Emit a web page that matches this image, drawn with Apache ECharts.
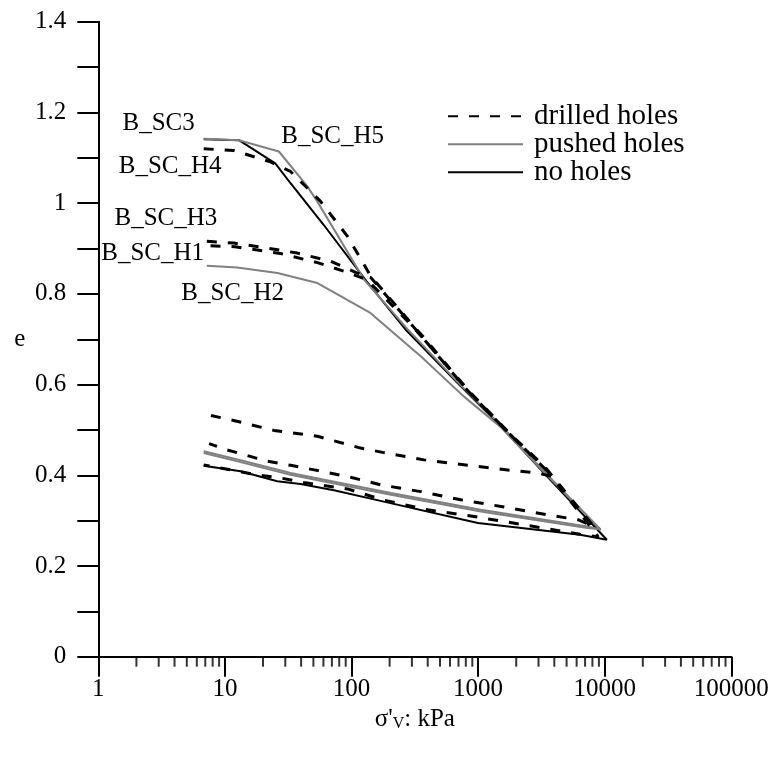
<!DOCTYPE html>
<html><head><meta charset="utf-8">
<script src="https://cdn.jsdelivr.net/npm/echarts@6/dist/echarts.min.js"></script>
<style>html,body{margin:0;padding:0;background:#fff}#c{width:774px;height:760px}</style>
</head><body><div id="c"></div>
<script>
// ---- data (sigma'v in kPa, void ratio e) ----
const xTickLabels = ['1', '10', '100', '1000', '10000', '100000'];
const yTickLabels = ['0', '0.2', '0.4', '0.6', '0.8', '1', '1.2', '1.4'];
const xMinorTicks = [2,3,4,5,6,7,8,9, 20,30,40,50,60,70,80,90, 200,300,400,500,600,700,800,900,
  2000,3000,4000,5000,6000,7000,8000,9000, 20000,30000,40000,50000,60000,70000,80000,90000];

// no holes
const sc3 = [[6.8,1.141],[12.9,1.139],[25,1.088],[33,1.044],[60,0.953],[133,0.826],[268,0.721],[686,0.604],[1513,0.508],[3500,0.398],[10400,0.258],
  [6400,0.269],[996,0.295],[180,0.342],[72.7,0.367],[39.6,0.381],[25.9,0.387],[13.3,0.409],[6.8,0.421]];
// pushed holes
const scH5 = [[6.8,1.142],[12.9,1.139],[26.7,1.114],[44.8,1.037],[53.6,1.004],[126,0.831],[276,0.723],[686,0.606],[1513,0.51],[3500,0.402],[9300,0.28],
  [7300,0.287],[1050,0.324],[205,0.361],[82,0.383],[33,0.405],[13.3,0.433],[6.8,0.453]];
const scH2 = [[7.2,0.862],[12.5,0.858],[26,0.846],[53.8,0.824],[141,0.758],[354,0.662],[770,0.574],[1513,0.506],[3500,0.4],[9200,0.281],
  [7300,0.284],[1050,0.32],[205,0.357],[82,0.379],[33,0.401],[13.3,0.429],[6.8,0.449]];
// drilled holes
const scH4 = [[6.8,1.12],[11.8,1.116],[22.9,1.091],[33,1.07],[57,1.004],[93,0.927],[142,0.839],[303,0.732],[375,0.703],[826,0.589],[1808,0.49],[3330,0.42],[8200,0.287],
  [6140,0.302],[3530,0.313],[1615,0.33],[730,0.346],[352,0.364],[170,0.379],[104,0.394],[50.7,0.412],[33,0.422],[21.7,0.431],[10.4,0.456],[7.5,0.47]];
const scH3 = [[7.2,0.916],[11.8,0.912],[21.6,0.901],[37.3,0.89],[68.4,0.872],[111,0.846],[142,0.836],[303,0.73],[826,0.587],[1808,0.489],[3900,0.397],
  [2950,0.405],[1808,0.411],[826,0.422],[375,0.434],[180,0.45],[118,0.46],[53.8,0.486],[24.4,0.499],[11.7,0.521],[7.2,0.534]];
const scH1 = [[7.7,0.906],[12,0.904],[27.5,0.889],[53.8,0.869],[87,0.85],[133,0.831],[303,0.729],[826,0.588],[1808,0.488],[3330,0.418],[8900,0.264],
  [6400,0.27],[2770,0.287],[930,0.309],[400,0.324],[180,0.345],[93,0.37],[42,0.384],[27.5,0.394],[18,0.401],[6.8,0.423]];

// curve annotations
const labelNames = ['B_SC3', 'B_SC_H5', 'B_SC_H4', 'B_SC_H3', 'B_SC_H1', 'B_SC_H2'];
const labelX = [1.567, 28.1, 1.465, 1.355, 1.064, 4.56];
const labelE = [1.174, 1.147, 1.080, 0.965, 0.889, 0.801];

const legendNames = ['drilled holes', 'pushed holes', 'no holes'];

// ---- chart ----
const FONT = 'Liberation Serif';
const chart = echarts.init(document.getElementById('c'), null, { renderer: 'canvas' });

function curve(name, data, kind) {
  const styles = {
    drilled: { color: '#000000', width: 3, type: [10, 11] },
    pushed: { color: '#808080', width: 2, type: 'solid' },
    none: { color: '#000000', width: 2, type: 'solid' }
  };
  const z = { none: 2, pushed: 3, drilled: 4 }[kind];
  return {
    type: 'line', name: name, data: data, symbol: 'none', showSymbol: false,
    lineStyle: styles[kind], itemStyle: { color: styles[kind].color },
    z: z, silent: true, animation: false, clip: false
  };
}

const option = {
  animation: false,
  backgroundColor: '#ffffff',
  textStyle: { fontFamily: FONT, color: '#000' },
  grid: { left: 98.3, right: 42.7, top: 21.8, bottom: 103.3, containLabel: false, outerBoundsMode: 'none' },
  legend: {
    data: legendNames,
    orient: 'vertical', left: 447, top: 98.3, padding: 0,
    itemWidth: 75, itemHeight: 14, itemGap: -8,
    itemStyle: { opacity: 0, color: 'rgba(0,0,0,0)', borderWidth: 0 },
    textStyle: { fontFamily: FONT, fontSize: 29, color: '#000', lineHeight: 28, padding: [0, 0, 8, 6] },
    selectedMode: false
  },
  xAxis: {
    type: 'log', logBase: 10, min: 1, max: 100000,
    name: "σ'{sub|V}: kPa", nameLocation: 'middle', nameGap: 48,
    nameTextStyle: { fontFamily: FONT, fontSize: 25, color: '#000',
      rich: { sub: { fontFamily: FONT, fontSize: 16, color: '#000', verticalAlign: 'bottom', padding: [10, 0, 0, 0] } } },
    axisLine: { show: true, onZero: false, lineStyle: { color: '#000', width: 2 } },
    axisTick: { show: true, inside: false, length: 20, lineStyle: { color: '#000', width: 2 } },
    minorTick: { show: false },
    splitLine: { show: false },
    axisLabel: { fontFamily: FONT, fontSize: 25, color: '#000', margin: 20,
      formatter: function (v) { const i = Math.round(Math.log10(v)); return xTickLabels[i] !== undefined ? xTickLabels[i] : ''; } }
  },
  yAxis: {
    type: 'value', min: 0, max: 1.4, interval: 0.2,
    name: 'e', nameLocation: 'middle', nameRotate: 0, nameGap: 73,
    nameTextStyle: { fontFamily: FONT, fontSize: 25, color: '#000' },
    axisLine: { show: true, onZero: false, lineStyle: { color: '#000', width: 2 } },
    axisTick: { show: true, inside: false, length: 21, lineStyle: { color: '#000', width: 2 } },
    minorTick: { show: true, splitNumber: 2, length: 21, lineStyle: { color: '#000', width: 2 } },
    splitLine: { show: false },
    axisLabel: { fontFamily: FONT, fontSize: 25, color: '#000', margin: 32,
      formatter: function (v) { const i = Math.round(v / 0.2); return yTickLabels[i] !== undefined ? yTickLabels[i] : ''; } }
  },
  series: [
    curve('no holes', sc3, 'none'),
    curve('pushed holes', scH5, 'pushed'),
    curve('pushed holes', scH2, 'pushed'),
    curve('drilled holes', scH4, 'drilled'),
    curve('drilled holes', scH3, 'drilled'),
    curve('drilled holes', scH1, 'drilled'),
    {
      type: 'scatter', name: 'minorTicks', silent: true, clip: false, z: 6,
      data: xMinorTicks.map(v => [v, 0]),
      symbol: 'rect', symbolSize: [2, 10], symbolOffset: [0, 5],
      itemStyle: { color: '#000' }
    },
    {
      type: 'scatter', name: 'labels', silent: true, clip: false, z: 7,
      data: labelNames.map((n, i) => ({ name: n, value: [labelX[i], labelE[i]] })),
      symbolSize: 1, itemStyle: { color: '#ffffff', opacity: 1 },
      label: { show: true, position: [0, 0], align: 'left', verticalAlign: 'middle',
        formatter: '{b}', fontFamily: FONT, fontSize: 25, color: '#000000', opacity: 1,
        textBorderWidth: 0, textShadowBlur: 0 }
    }
  ]
};
chart.setOption(option);
</script>
</body></html>
